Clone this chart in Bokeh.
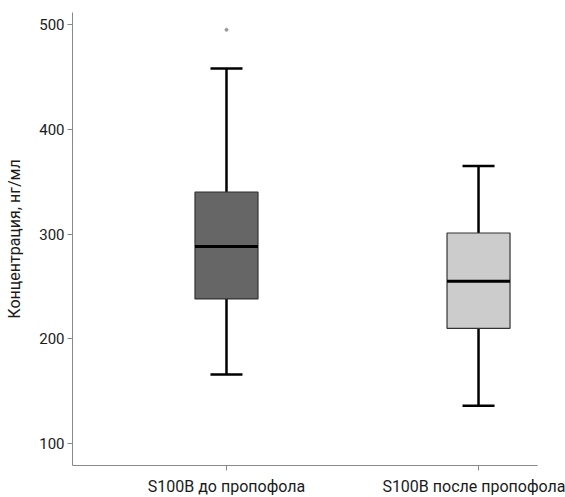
from bokeh.plotting import figure
from bokeh.models import Range1d, FixedTicker, ColumnDataSource
from bokeh.embed import file_html
from bokeh.resources import INLINE

categories = ["S100B до пропофола", "S100B после пропофола"]
lower = [166, 136]
q1 = [238, 210]
median = [288, 255]
q3 = [340, 301]
upper = [458, 365]
outlier_group = [0]
outlier_value = [495]
fills = ["#666666", "#cccccc"]

pos = [i + 1 for i in range(len(categories))]
box_w = 0.25
cap_w = 0.127

FONT = "Roboto"

p = figure(frame_width=465, frame_height=453,
           min_border_left=72, min_border_right=28, min_border_top=12, min_border_bottom=32,
           x_range=Range1d(0.389, 2.234), y_range=Range1d(79, 511.5),
           output_backend="svg", toolbar_location=None)

src = ColumnDataSource(dict(x=pos, lower=lower, q1=q1, median=median, q3=q3, upper=upper,
                            fill=fills,
                            cl=[x - cap_w / 2 for x in pos], cr=[x + cap_w / 2 for x in pos],
                            bl=[x - box_w / 2 for x in pos], br=[x + box_w / 2 for x in pos]))

# whiskers
p.segment(x0="x", y0="q3", x1="x", y1="upper", source=src, line_color="black", line_width=2.5)
p.segment(x0="x", y0="lower", x1="x", y1="q1", source=src, line_color="black", line_width=2.5)
p.segment(x0="cl", y0="upper", x1="cr", y1="upper", source=src, line_color="black", line_width=2.5)
p.segment(x0="cl", y0="lower", x1="cr", y1="lower", source=src, line_color="black", line_width=2.5)
# boxes
p.vbar(x="x", width=box_w, bottom="q1", top="q3", source=src, fill_color="fill",
       line_color="#333333", line_width=1.2)
p.segment(x0="bl", y0="median", x1="br", y1="median", source=src, line_color="black", line_width=3)
# outliers
p.scatter(x=[pos[g] for g in outlier_group], y=outlier_value, size=3, color="#999999")

p.grid.visible = False
p.outline_line_color = None

p.xaxis.ticker = FixedTicker(ticks=pos)
p.xaxis.major_label_overrides = {x: c for x, c in zip(pos, categories)}
p.xaxis.minor_tick_line_color = None
p.yaxis.ticker = FixedTicker(ticks=[100, 200, 300, 400, 500])
p.yaxis.minor_tick_line_color = None
p.yaxis.axis_label = "Концентрация, нг/мл"

for ax in (p.xaxis, p.yaxis):
    ax.axis_line_color = "#888888"
    ax.major_tick_line_color = "#888888"
    ax.major_tick_in = 0
    ax.major_tick_out = 5
    ax.major_label_text_font = FONT
    ax.major_label_text_font_size = "15px"
    ax.major_label_text_color = "#1a1a1a"
    ax.axis_label_text_font = FONT
    ax.axis_label_text_font_size = "16px"
    ax.axis_label_text_font_style = "normal"
    ax.axis_label_text_color = "#1a1a1a"

p.xaxis.major_label_text_font_size = "16px"
p.xaxis.major_label_standoff = 6
p.yaxis.major_label_standoff = 3
p.yaxis.axis_label_standoff = 12

open("out.html", "w").write(file_html(p, INLINE))
